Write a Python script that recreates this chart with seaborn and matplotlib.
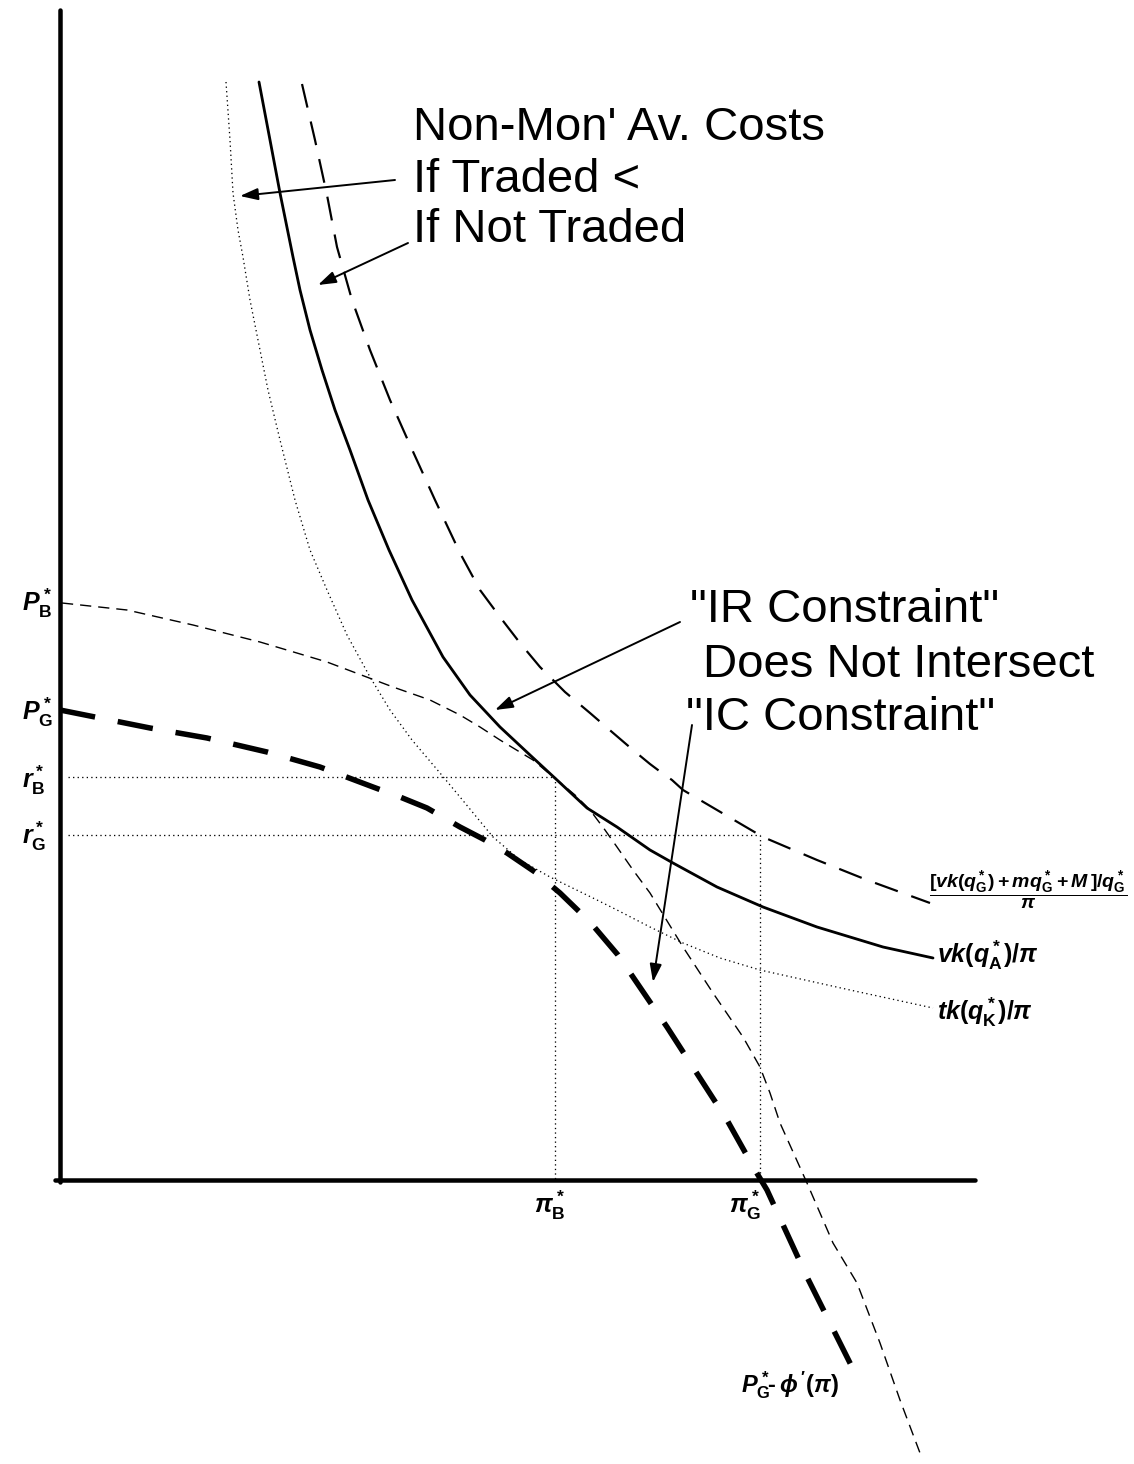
import matplotlib
matplotlib.use("Agg")
import matplotlib.pyplot as plt
import seaborn as sns

sns.set_theme(style="white")
plt.rcParams['font.family'] = ['Liberation Sans', 'DejaVu Sans']
plt.rcParams['text.color'] = 'black'
plt.rcParams['mathtext.fontset'] = 'custom'
plt.rcParams['mathtext.rm'] = 'Liberation Sans:bold'
plt.rcParams['mathtext.it'] = 'Liberation Sans:italic:bold'
plt.rcParams['mathtext.bf'] = 'Liberation Sans:bold'

# ---- data (diagram coordinates; y grows downward) ----
solid_x = [259, 270, 280, 293, 300, 310, 322, 335, 350, 368, 389, 412, 443, 470, 500, 530, 557,
           587, 617, 650, 673, 717, 763, 817, 883, 933]
solid_y = [82, 140, 193, 257, 290, 330, 370, 410, 450, 500, 550, 600, 657, 695, 727, 755, 780,
           808, 827, 850, 863, 887, 907, 927, 947, 958]

upper_dash_x = [302, 315, 327, 337, 352, 370, 390, 410, 435, 460, 480, 500, 520, 540, 565, 590,
                612, 633, 650, 662, 672, 683, 717, 763, 817, 867, 930]
upper_dash_y = [84, 140, 195, 247, 300, 350, 400, 445, 500, 553, 590, 617, 643, 667, 692, 713,
                732, 750, 764, 773, 780, 790, 810, 837, 860, 880, 903]

dotted_x = [226, 230, 233, 238, 243, 250, 258, 268, 280, 295, 310, 327, 347, 370, 390, 412, 440,
            460, 493, 520, 550, 597, 617, 650, 683, 720, 760, 850, 933]
dotted_y = [82, 140, 193, 230, 257, 300, 340, 390, 440, 500, 550, 590, 635, 677, 710, 740, 773,
            797, 837, 860, 877, 900, 910, 927, 943, 958, 970, 990, 1008]

thin_dash_x = [62, 127, 193, 260, 327, 393, 430, 460, 480, 500, 533, 557, 575, 590, 605, 617, 633,
               650, 683, 713, 743, 760, 770, 780, 807, 833, 857, 880, 900, 920]
thin_dash_y = [603, 610, 625, 642, 662, 687, 700, 715, 727, 740, 760, 780, 795, 810, 830, 847, 870,
               893, 947, 993, 1037, 1067, 1093, 1123, 1183, 1243, 1283, 1343, 1400, 1453]

thick_dash_x = [60, 150, 207, 267, 320, 373, 400, 427, 460, 485, 507, 535, 560, 590, 618, 667, 727,
                755, 767, 807, 857]
thick_dash_y = [710, 728, 738, 752, 767, 787, 797, 808, 827, 840, 853, 872, 893, 922, 955, 1027, 1120,
                1170, 1190, 1277, 1377]

# reference levels
r_levels = [777, 835]
pi_levels = [555, 760]

# axes of the diagram
axis_origin = (60, 1180)
axis_top = 10
axis_right = 975

# tick labels
left_labels = [r'$P^*_{\mathrm{B}}$', r'$P^*_{\mathrm{G}}$', r'$r^*_{\mathrm{B}}$', r'$r^*_{\mathrm{G}}$']
left_label_y = [603, 712, 780, 836]
bottom_labels = [r'$\pi^*_{\mathrm{B}}$', r'$\pi^*_{\mathrm{G}}$']

W, H = 1134, 1464
fig = plt.figure(figsize=(W / 100, H / 100), dpi=100)
ax = fig.add_axes([0, 0, 1, 1])
ax.set_xlim(0, W)
ax.set_ylim(H, 0)
ax.axis('off')


def px(v):
    return v * 72 / 100.0


def draw(xs, ys, lw, ls='-'):
    sns.lineplot(x=xs, y=ys, ax=ax, color='black', lw=px(lw), sort=False,
                 estimator=None, linestyle=ls)


# axes
draw([axis_origin[0], axis_origin[0]], [axis_top, axis_origin[1] + 2], 4.5)
draw([axis_origin[0] - 5, axis_right], [axis_origin[1], axis_origin[1]], 4.5)

# curves
draw(solid_x, solid_y, 2.8)
draw(upper_dash_x, upper_dash_y, 2.2, (0, (11, 6.5)))
draw(dotted_x, dotted_y, 1.3, (0, (1, 2.5)))
draw(thin_dash_x, thin_dash_y, 1.4, (0, (8, 5)))
draw(thick_dash_x, thick_dash_y, 5.5, (0, (6.5, 4.2)))

# dotted guide lines
dot = (0, (1, 2.5))
draw([68, pi_levels[0]], [r_levels[0], r_levels[0]], 1.3, dot)
draw([68, pi_levels[1]], [r_levels[1], r_levels[1]], 1.3, dot)
draw([pi_levels[0], pi_levels[0]], [r_levels[0], axis_origin[1]], 1.3, dot)
draw([pi_levels[1], pi_levels[1]], [r_levels[1], axis_origin[1]], 1.3, dot)

# left labels
for lab, yy in zip(left_labels, left_label_y):
    ax.text(22, yy, lab, fontsize=18, ha='left', va='center', color='black')

# bottom labels
ax.text(pi_levels[0] - 5, 1205, bottom_labels[0], fontsize=18, ha='center', va='center')
ax.text(pi_levels[1] - 15, 1205, bottom_labels[1], fontsize=18, ha='center', va='center')
ax.text(790, 1385, r"$P^*_{\mathrm{G}}\!\text{-}\,\phi\,'(\pi)$", fontsize=17, ha='center', va='center')

# right labels
ax.text(1028, 890, r'$\dfrac{[vk(q^*_{\mathrm{G}})+mq^*_{\mathrm{G}}+M\,]/q^*_{\mathrm{G}}}{\pi}$',
        fontsize=14, ha='center', va='center')
ax.text(937, 955, r'$vk(q^*_{\mathrm{A}})/\pi$', fontsize=18, ha='left', va='center')
ax.text(937, 1012, r'$tk(q^*_{\mathrm{K}})/\pi$', fontsize=18, ha='left', va='center')

# annotations
big = 34
ax.text(413, 128, "Non-Mon' Av. Costs", fontsize=big, ha='left', va='center')
ax.text(413, 180, "If Traded <", fontsize=big, ha='left', va='center')
ax.text(413, 230, "If Not Traded", fontsize=big, ha='left', va='center')

ax.text(690, 610, '"IR Constraint"', fontsize=big, ha='left', va='center')
ax.text(703, 665, 'Does Not Intersect', fontsize=big, ha='left', va='center')
ax.text(686, 718, '"IC Constraint"', fontsize=big, ha='left', va='center')

arrow_kw = dict(arrowstyle='-|>,head_length=0.9,head_width=0.3', color='black', lw=1.4,
                shrinkA=0, shrinkB=0)
ax.annotate('', xy=(240, 196), xytext=(395, 180), arrowprops=arrow_kw)
ax.annotate('', xy=(318, 285), xytext=(408, 243), arrowprops=arrow_kw)
ax.annotate('', xy=(495, 710), xytext=(680, 622), arrowprops=arrow_kw)
ax.annotate('', xy=(653, 982), xytext=(692, 725), arrowprops=arrow_kw)

fig.savefig('out.png', dpi=100, facecolor='white')
